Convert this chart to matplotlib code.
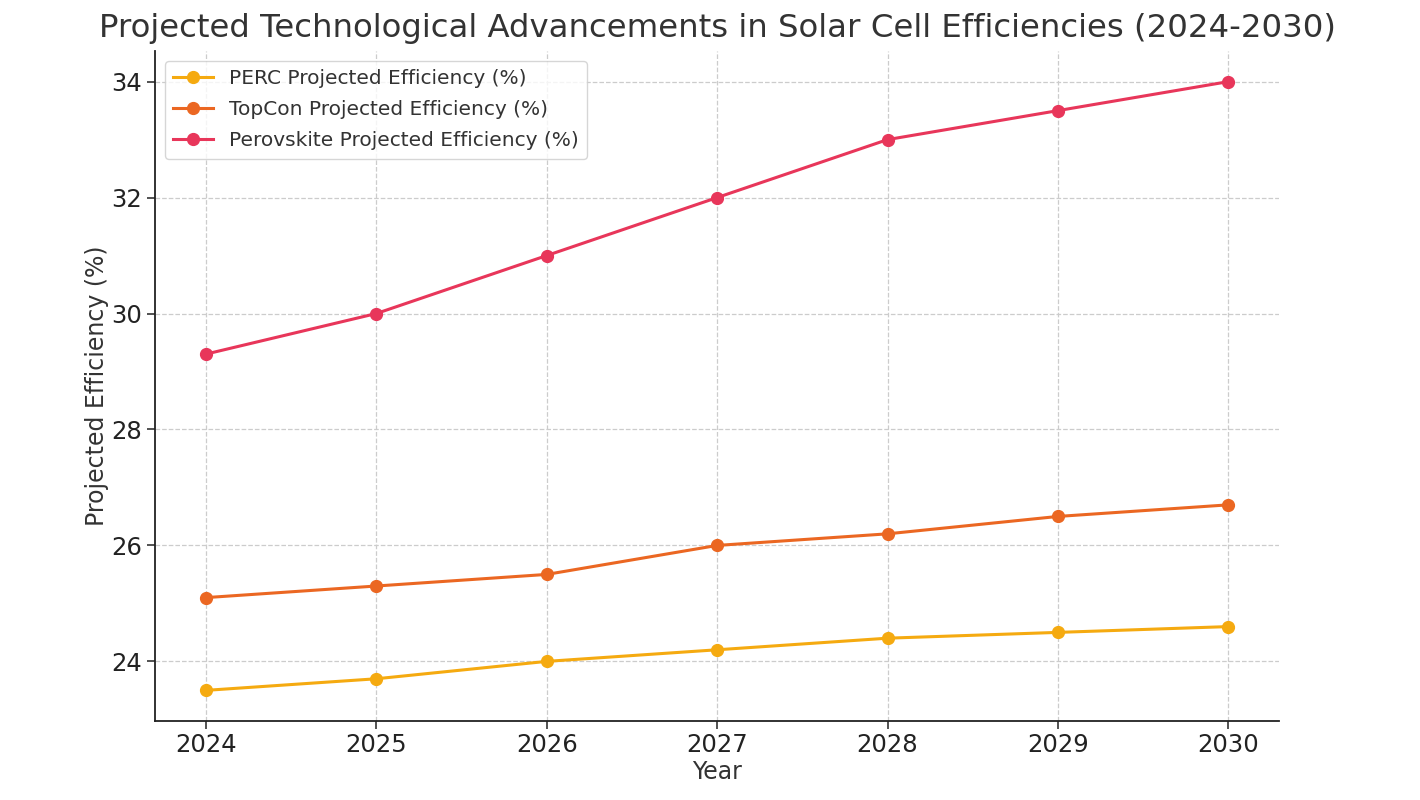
import matplotlib
matplotlib.use("Agg")
import matplotlib.pyplot as plt

years = [2024, 2025, 2026, 2027, 2028, 2029, 2030]
perc = [23.5, 23.7, 24.0, 24.2, 24.4, 24.5, 24.6]
topcon = [25.1, 25.3, 25.5, 26.0, 26.2, 26.5, 26.7]
perovskite = [29.3, 30.0, 31.0, 32.0, 33.0, 33.5, 34.0]
series_labels = ["PERC Projected Efficiency (%)",
                 "TopCon Projected Efficiency (%)",
                 "Perovskite Projected Efficiency (%)"]
colors = ["#F5AA10", "#EB6722", "#E8365A"]

text_color = "#333333"
plt.rcParams['font.family'] = ['DejaVu Sans']

fig = plt.figure(figsize=(14.2, 8), dpi=100)
ax = fig.add_axes([0.109, 0.099, 0.792, 0.837])

for vals, lab, c in zip([perc, topcon, perovskite], series_labels, colors):
    ax.plot(years, vals, marker='o', color=c, linewidth=2.2, markersize=8.5, label=lab)

ax.set_title("Projected Technological Advancements in Solar Cell Efficiencies (2024-2030)",
             fontsize=23.3, color=text_color, pad=10)
ax.set_xlabel("Year", fontsize=17, color=text_color, labelpad=2)
ax.set_ylabel("Projected Efficiency (%)", fontsize=17, color=text_color, labelpad=2)
ax.set_xticks(years)
ax.set_yticks([24, 26, 28, 30, 32, 34])
ax.tick_params(axis='both', labelsize=17.5, colors=text_color, length=6, width=1.2, pad=3)
ax.tick_params(axis='both', labelcolor='#222222')
ax.grid(True, linestyle='--', color='#cccccc', linewidth=0.9)
ax.spines['top'].set_visible(False)
ax.spines['right'].set_visible(False)
for s in ['left', 'bottom']:
    ax.spines[s].set_linewidth(1.3)
    ax.spines[s].set_color('#222222')

leg = ax.legend(loc='upper left', fontsize=14.5, frameon=True, borderaxespad=0.5,
                labelspacing=0.6)
for t in leg.get_texts():
    t.set_color(text_color)

fig.savefig("out.png", dpi=100)
